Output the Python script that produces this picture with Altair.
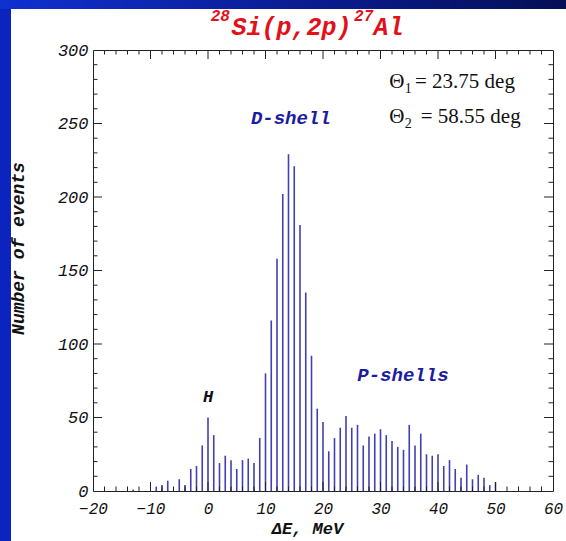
import altair as alt
import pandas as pd

# ---------------- data ----------------
energy = [-13, -9, -8, -7, -5, -4, -3, -2, -1, 0, 1, 2, 3, 4, 5, 6, 7, 8, 9,
          10, 11, 12, 13, 14, 15, 16, 17, 18, 19, 20, 21, 22, 23, 24, 25, 26,
          27, 28, 29, 30, 31, 32, 33, 34, 35, 36, 37, 38, 39, 40, 41, 42, 43,
          44, 45, 46, 47, 48, 49, 50]
counts = [1, 3, 4, 7, 8, 4, 15, 17, 31, 50, 38, 19, 24, 21, 15, 21, 22, 19, 36,
          80, 116, 158, 202, 229, 221, 181, 135, 92, 56, 47, 27, 36, 43, 51, 43, 45,
          31, 37, 39, 42, 38, 34, 30, 28, 45, 31, 39, 25, 24, 25, 17, 21, 15,
          9, 18, 8, 11, 9, 4, 6]

x_labels = [-20, -10, 0, 10, 20, 30, 40, 50, 60]
y_labels = [0, 50, 100, 150, 200, 250, 300]
x_major = [-10, 0, 10, 20, 30, 40, 50]
x_minor = [v for v in range(-18, 60, 2) if v % 10 != 0]
y_major = [50, 100, 150, 200, 250]
y_minor = [v for v in range(10, 300, 10) if v % 50 != 0]

title_text = ["28", "Si(p,2p)", "27", "Al"]
title_E = [3.8, 4.1, 25.4, 28.8]
title_c = [319.5, 310.4, 319.5, 310.4]

theta_text = ["Θ", "= 23.75 deg", "Θ", "= 58.55 deg"]
theta_E = [31.5, 36.0, 31.5, 37.0]
theta_c = [274.0, 274.0, 250.1, 250.1]
sub_text = ["1", "2"]
sub_E = [34.2, 34.2]
sub_c = [271.0, 247.0]

shell_text = ["D-shell", "P-shells"]
shell_E = [14.4, 33.9]
shell_c = [254, 79]
h_text = ["H"]
h_E = [0]
h_c = [64]

W, H = 460, 441
MONO = "Liberation Mono"
SERIF = "Liberation Serif"
BAR = "#4040b2"
RED = "#e3101a"
NAVY = "#1c1ca0"

xs = alt.Scale(domain=[-20, 60], nice=False, zero=False)
ys = alt.Scale(domain=[0, 300], nice=False, zero=False)

XAX = alt.Axis(
    values=x_labels, ticks=False, domain=False, grid=False,
    labelFont=MONO, labelFontStyle="italic", labelFontSize=16,
    labelColor="#111", labelPadding=9, labelOverlap=False, labelFlush=False,
    title="ΔE, MeV", titleFont=MONO, titleFontStyle="italic",
    titleFontWeight="bold", titleFontSize=17, titleColor="#111",
    titleX=214, titleY=42, titleAlign="center", titleBaseline="alphabetic")
YAX = alt.Axis(
    values=y_labels, ticks=False, domain=False, grid=False,
    labelFont=MONO, labelFontStyle="italic", labelFontSize=17,
    labelColor="#111", labelPadding=5, labelOverlap=False, labelFlush=False,
    title="Number of events", titleFont=MONO, titleFontStyle="italic",
    titleFontWeight="bold", titleFontSize=18, titleColor="#111",
    titleAngle=270, titleX=-75, titleY=198, titleAlign="center",
    titleBaseline="middle")

bars_df = pd.DataFrame({"E": energy, "n": counts})

bars = alt.Chart(bars_df).mark_rule(color=BAR, strokeWidth=1.6).encode(
    x=alt.X("E:Q", scale=xs, axis=XAX),
    y=alt.Y("n:Q", scale=ys, axis=YAX),
    y2=alt.datum(0),
)


def xticks(vals, y0, y1):
    return alt.Chart(pd.DataFrame({"E": vals})).mark_rule(color="#222", strokeWidth=1).encode(
        x=alt.X("E:Q", scale=xs, axis=XAX), y=alt.value(y0), y2=alt.value(y1))


def yticks(vals, x0, x1):
    return alt.Chart(pd.DataFrame({"n": vals})).mark_rule(color="#222", strokeWidth=1).encode(
        y=alt.Y("n:Q", scale=ys, axis=YAX), x=alt.value(x0), x2=alt.value(x1))


ticks = [
    xticks(x_major, H, H - 9), xticks(x_minor, H, H - 4.5),
    xticks(x_major, 0, 9), xticks(x_minor, 0, 4.5),
    yticks(y_major, 0, 9), yticks(y_minor, 0, 4.5),
    yticks(y_major, W, W - 9), yticks(y_minor, W, W - 4.5),
]


def texts(t, e, c, **mk):
    df = pd.DataFrame({"t": t, "E": e, "n": c})
    return alt.Chart(df).mark_text(**mk).encode(
        x=alt.X("E:Q", scale=xs, axis=XAX),
        y=alt.Y("n:Q", scale=ys, axis=YAX),
        text="t:N")


title_big = texts([title_text[1], title_text[3]], [title_E[1], title_E[3]],
                  [title_c[1], title_c[3]], font=MONO, fontSize=25, fontWeight="bold",
                  fontStyle="italic", color=RED, align="left", baseline="alphabetic")
title_sup1 = texts([title_text[0]], [title_E[0]], [title_c[0]], font=MONO, fontSize=16,
                   fontWeight="bold", fontStyle="italic", color=RED, align="right",
                   baseline="alphabetic")
title_sup2 = texts([title_text[2]], [title_E[2]], [title_c[2]], font=MONO, fontSize=16,
                   fontWeight="bold", fontStyle="italic", color=RED, align="left",
                   baseline="alphabetic")

theta = texts(theta_text, theta_E, theta_c, font=SERIF, fontSize=21, color="#111",
              align="left", baseline="alphabetic")
theta_sub = texts(sub_text, sub_E, sub_c, font=SERIF, fontSize=14, color="#111",
                  align="left", baseline="alphabetic")
shells = texts(shell_text, shell_E, shell_c, font=MONO, fontSize=19, fontWeight="bold",
               fontStyle="italic", color=NAVY, align="center", baseline="middle")
hlab = texts(h_text, h_E, h_c, font=MONO, fontSize=17, fontWeight="bold",
             fontStyle="italic", color="#111", align="center", baseline="middle")

# slide frame (decoration around the white chart area)
one = alt.Data(values=[{"a": 1}])
left_strip = alt.Chart(one).mark_rect(color="#0b24bd").encode(
    x=alt.value(-93), x2=alt.value(-82), y=alt.value(-50), y2=alt.value(H + 50))
top_strip = alt.Chart(one).mark_rect(
    fill=alt.Gradient(gradient="linear",
                      stops=[alt.GradientStop(color="#1030d0", offset=0),
                             alt.GradientStop(color="#0a1a8a", offset=0.6),
                             alt.GradientStop(color="#050f55", offset=1)],
                      x1=0, x2=1, y1=0, y2=0)).encode(
    x=alt.value(-93), x2=alt.value(W + 13), y=alt.value(-50), y2=alt.value(-41))

chart = alt.layer(
    left_strip, top_strip, bars, *ticks,
    title_big, title_sup1, title_sup2, theta, theta_sub, shells, hlab,
).properties(
    width=W, height=H,
    padding={"left": 93, "top": 50, "right": 13, "bottom": 50},
    autosize=alt.AutoSizeParams(type="none"),
    background="white",
).configure_view(stroke="#222", strokeWidth=1)

chart.save("out.html", embed_options={"renderer": "svg", "actions": False})
